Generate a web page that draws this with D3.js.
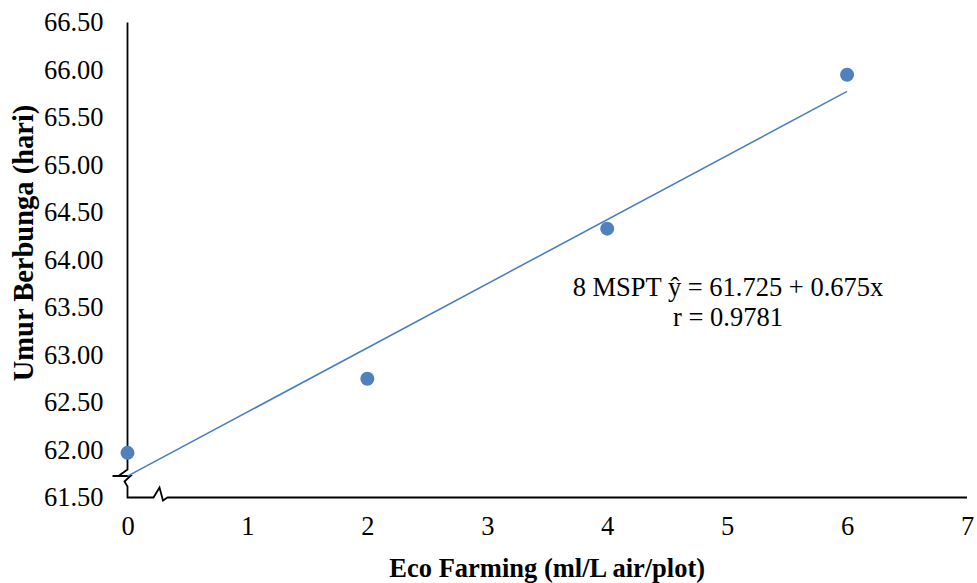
<!DOCTYPE html>
<html>
<head>
<meta charset="utf-8">
<script src="https://cdn.jsdelivr.net/npm/d3@7"></script>
<style>
  html, body { margin: 0; padding: 0; background: #fff; }
  svg { display: block; }
  text { font-family: "Liberation Serif", "Times New Roman", serif; fill: #000; }
</style>
</head>
<body>
<svg id="chart" width="977" height="583"></svg>
<script>
// Eco Farming dose vs. days to flowering
const doses = [0, 2, 4, 6];
const floweringDays = [61.97, 62.75, 64.33, 65.95];
const xTicks = [0, 1, 2, 3, 4, 5, 6, 7];
const yTicks = [61.5, 62.0, 62.5, 63.0, 63.5, 64.0, 64.5, 65.0, 65.5, 66.0, 66.5];
const intercept = 61.725;
const slope = 0.675;
const eqLines = ["8 MSPT \u0177 = 61.725 + 0.675x", "r = 0.9781"];
const xTitle = "Eco Farming (ml/L air/plot)";
const yTitle = "Umur Berbunga (hari)";

const svg = d3.select("#chart");
const x = d3.scaleLinear().domain([0, 7]).range([127.5, 967]);
const y = d3.scaleLinear().domain([61.5, 66.5]).range([497.5, 22.5]);

// axes: labels only, lines drawn separately with break markers
const yAxis = svg.append("g")
  .attr("transform", `translate(${x(0)},0)`)
  .call(d3.axisLeft(y).tickValues(yTicks).tickSize(0).tickPadding(24).tickFormat(d3.format(".2f")));
yAxis.select(".domain").remove();
yAxis.selectAll("text").style("font-size", "26.5px").attr("font-family", null);

const xAxis = svg.append("g")
  .attr("transform", `translate(0,${y(61.5)})`)
  .call(d3.axisBottom(x).tickValues(xTicks).tickSize(0).tickPadding(19).tickFormat(d3.format("d")));
xAxis.select(".domain").remove();
xAxis.selectAll("text").style("font-size", "26.5px").attr("font-family", null);

// axis lines with the broken-axis zigzags
const x0 = x(0), yb = y(61.5);
const axisPath = d3.path();
axisPath.moveTo(x0, y(66.5));
axisPath.lineTo(x0, yb - 28);
axisPath.lineTo(x0 - 9, yb - 21.5);
axisPath.moveTo(x0 - 15, yb - 21.5);
axisPath.lineTo(x0 + 3, yb - 21.5);
axisPath.lineTo(x0 - 3, yb - 16);
axisPath.lineTo(x0, yb - 11);
axisPath.lineTo(x0, yb);
axisPath.lineTo(x0 + 26, yb);
axisPath.lineTo(x0 + 32, yb - 10);
axisPath.lineTo(x0 + 35.5, yb + 3);
axisPath.lineTo(x0 + 40, yb);
axisPath.lineTo(x(7), yb);
svg.append("path")
  .attr("d", axisPath.toString())
  .attr("fill", "none")
  .attr("stroke", "#000")
  .attr("stroke-width", 1.8)
  .attr("stroke-linejoin", "miter");

// linear trend line
const trendX = [0, 6];
svg.append("line")
  .attr("x1", x(trendX[0])).attr("y1", y(intercept + slope * trendX[0]))
  .attr("x2", x(trendX[1])).attr("y2", y(intercept + slope * trendX[1]))
  .attr("stroke", "#4a7ebf")
  .attr("stroke-width", 1.6);

// observed points
svg.append("g").selectAll("circle")
  .data(doses.map((d, i) => [d, floweringDays[i]]))
  .join("circle")
  .attr("cx", d => x(d[0]))
  .attr("cy", d => y(d[1]))
  .attr("r", 7)
  .attr("fill", "#4f81bd");

// regression equation
svg.append("g").selectAll("text")
  .data(eqLines)
  .join("text")
  .attr("x", 728)
  .attr("y", (d, i) => 296 + i * 30)
  .attr("text-anchor", "middle")
  .style("font-size", "26.5px")
  .text(d => d);

// axis titles
svg.append("text")
  .attr("x", (x(0) + x(7)) / 2)
  .attr("y", 577)
  .attr("text-anchor", "middle")
  .style("font-size", "26.5px")
  .style("font-weight", "bold")
  .text(xTitle);

svg.append("text")
  .attr("transform", `translate(33,${243}) rotate(-90)`)
  .attr("text-anchor", "middle")
  .style("font-size", "28.5px")
  .style("font-weight", "bold")
  .text(yTitle);
</script>
</body>
</html>
